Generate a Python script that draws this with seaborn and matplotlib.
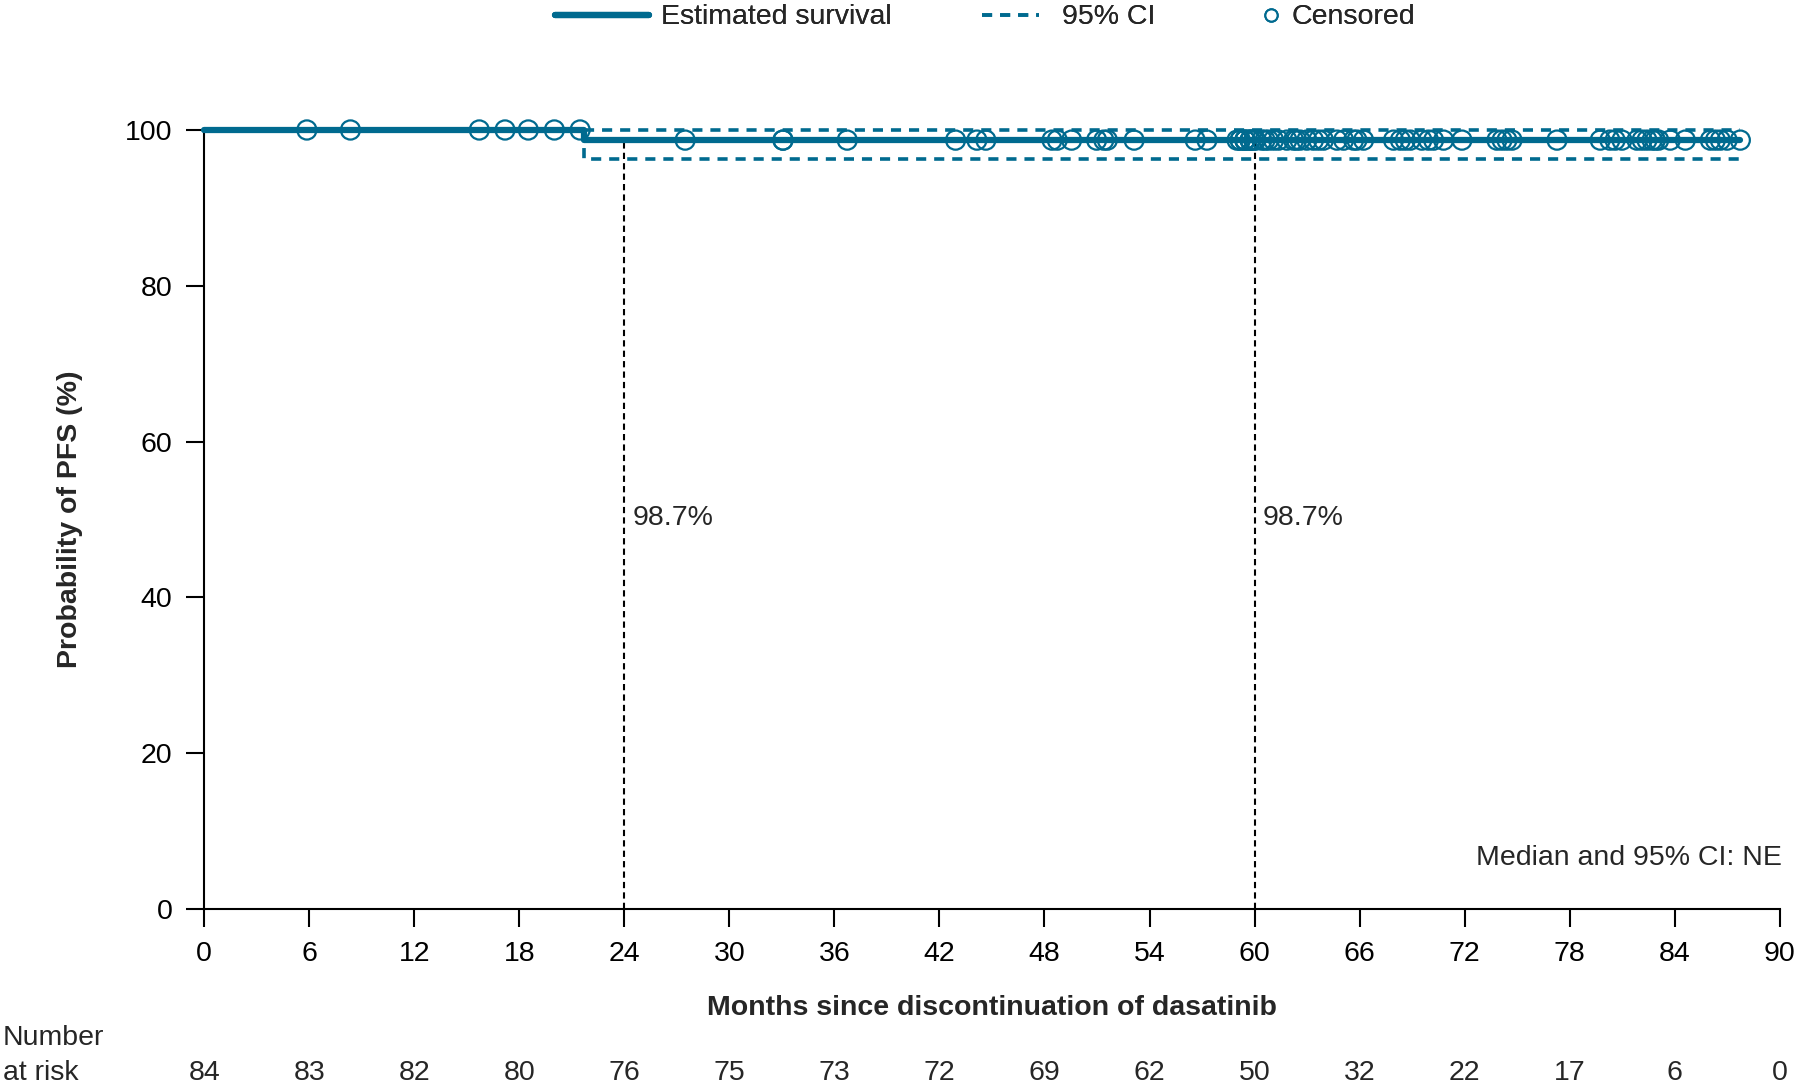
import numpy as np
import pandas as pd
import matplotlib
matplotlib.use("Agg")
import matplotlib.pyplot as plt
import matplotlib.transforms as mtransforms
from matplotlib.lines import Line2D
import seaborn as sns

# --- data ---
km_time = [0, 21.7, 87.75]
km_surv = [100, 98.7, 98.7]
ci_time = [21.7, 21.7, 87.75]
ci_lower = [100, 96.3, 96.3]
ci_upper_time = [21.7, 87.75]
ci_upper = [100, 100]
event_time = 21.7

censored_times = [
    5.86, 8.35, 15.71, 17.18, 18.51, 20.0, 21.47,
    27.47,
    33.06, 33.06,
    36.73,
    42.92, 44.14, 44.65,
    48.43, 48.73, 49.55, 50.98, 51.39, 51.59, 53.12,
    56.61, 57.28, 59.0, 59.18, 59.18, 59.45, 59.45, 59.45, 59.75, 59.75, 59.75, 59.95,
    60.06, 60.42, 60.6, 60.8, 61.09, 61.37, 61.85, 62.23, 62.4, 62.6, 62.99, 63.37,
    63.66, 63.94, 64.71, 65.09, 65.66, 65.85,
    66.23, 67.94, 68.33, 68.61, 68.9, 69.56, 69.94, 70.23, 70.8, 71.85,
    73.85, 74.14, 74.42, 74.71, 77.28,
    79.75, 80.3, 80.6, 80.99, 81.85, 82.14, 82.42, 82.71, 82.9, 83.09, 83.75,
    84.61, 86.04, 86.33, 86.61, 87.0, 87.75,
]

ref_months = [24, 60]
ref_labels = ["98.7%", "98.7%"]

risk_times = list(range(0, 91, 6))
at_risk = [84, 83, 82, 80, 76, 75, 73, 72, 69, 62, 50, 32, 22, 17, 6, 0]

BLUE = "#006a8f"
FONT = ["Liberation Sans", "DejaVu Sans"]
FS = 20.5
CI_DASH = (0, (2.8, 2.2))

sns.set_theme(style="ticks")
plt.rcParams["font.family"] = FONT
plt.rcParams["font.size"] = FS

fig = plt.figure(figsize=(18, 10.85), dpi=100)
ax = fig.add_axes([0.1135, 0.1622, 0.8752, 0.718])

km_df = pd.DataFrame({"month": km_time, "surv": km_surv})
sns.lineplot(data=km_df, x="month", y="surv", drawstyle="steps-post",
             estimator=None, color=BLUE, linewidth=4.5, ax=ax,
             clip_on=False, zorder=3)

lo_df = pd.DataFrame({"month": ci_time, "surv": ci_lower})
up_df = pd.DataFrame({"month": ci_upper_time, "surv": ci_upper})
for d in (lo_df, up_df):
    sns.lineplot(data=d, x="month", y="surv", estimator=None, sort=False,
                 color=BLUE, linewidth=2.6, ax=ax, clip_on=False, zorder=2,
                 linestyle=CI_DASH)

cens_df = pd.DataFrame({"month": censored_times})
cens_df["surv"] = np.where(cens_df["month"] < event_time, km_surv[0], km_surv[1])
sns.scatterplot(data=cens_df, x="month", y="surv", marker="o", s=190,
                facecolors="none", edgecolor=BLUE, linewidth=1.6,
                ax=ax, clip_on=False, zorder=4)

# reference lines at 24 and 60 months
for m, lab in zip(ref_months, ref_labels):
    ax.plot([m, m], [0, km_surv[1]], color="black", linewidth=1.5,
            linestyle=(0, (3, 2)), zorder=1)
    ax.text(m + 0.45, 50.2, lab, ha="left", va="center", fontsize=FS)

ax.text(90.1, 6.5, "Median and 95% CI: NE", ha="right", va="center", fontsize=FS)

ax.set_xlim(0, 90)
ax.set_ylim(0, 100)
ax.set_xticks(risk_times)
ax.set_yticks([0, 20, 40, 60, 80, 100])
ax.tick_params(axis="both", direction="out", length=13, width=1.5,
               labelsize=FS, colors="black", pad=10)
for side in ("top", "right"):
    ax.spines[side].set_visible(False)
for side in ("left", "bottom"):
    ax.spines[side].set_linewidth(1.5)
    ax.spines[side].set_color("black")

ax.set_xlabel("Months since discontinuation of dasatinib", fontsize=FS,
              fontweight="bold", labelpad=20)
ax.set_ylabel("Probability of PFS (%)", fontsize=FS, fontweight="bold")
ax.yaxis.set_label_coords(-0.077, 0.5)

# number at risk table
trans = mtransforms.blended_transform_factory(ax.transData, fig.transFigure)
for t, n in zip(risk_times, at_risk):
    ax.text(t, 0.0046, str(n), transform=trans, ha="center", va="baseline",
            fontsize=FS, clip_on=False)
fig.text(0.0017, 0.0370, "Number", ha="left", va="baseline", fontsize=FS)
fig.text(0.0017, 0.0046, "at risk", ha="left", va="baseline", fontsize=FS)

# legend: one entry per box so each handle keeps its own length
legend_y = 1 - 17.5 / 1085
entries = [
    (Line2D([], [], color=BLUE, linewidth=4.5), "Estimated survival",
     555 / 1800, 3.3, 0.42),
    (Line2D([], [], color=BLUE, linewidth=2.6, linestyle=CI_DASH), "95% CI",
     982 / 1800, 2.0, 0.8),
    (Line2D([], [], color=BLUE, linestyle="none", marker="o", markersize=9,
            markerfacecolor="none", markeredgewidth=1.4), "Censored",
     1260 / 1800, 0.8, 0.3),
]
for handle, label, x0, hl, pad in entries:
    leg = fig.legend([handle], [label], loc="center left",
                     bbox_to_anchor=(x0, legend_y), frameon=False, fontsize=FS,
                     handlelength=hl, handletextpad=pad, borderpad=0,
                     borderaxespad=0)
    fig.add_artist(leg)

fig.savefig("out.png", dpi=100)
